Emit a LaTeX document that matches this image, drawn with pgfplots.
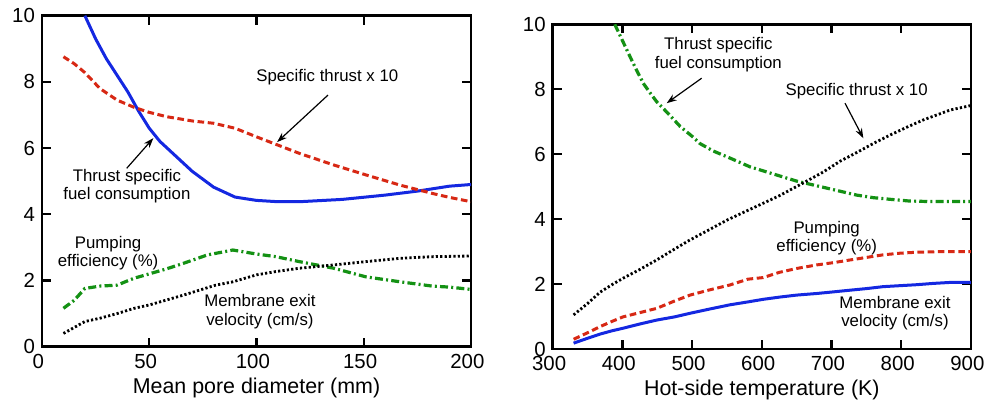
\documentclass[border=0pt]{standalone}
\usepackage{fontspec}
\setmainfont{Liberation Sans}
\usepackage{pgfplots}
\pgfplotsset{compat=1.18}
\usetikzlibrary{arrows.meta}
\definecolor{cblue}{RGB}{20,40,225}
\definecolor{cred}{RGB}{215,40,20}
\definecolor{cgreen}{RGB}{20,145,20}
\tikzset{
  sblue/.style={cblue, line width=1.5pt},
  sred/.style={cred, line width=1.5pt, dash pattern=on 3.3pt off 1.8pt},
  sgreen/.style={cgreen, line width=1.6pt, dash pattern=on 4pt off 1.6pt on 1pt off 1.6pt},
  sblack/.style={black, line width=1.4pt, dash pattern=on 1.1pt off 1.1pt},
  ann/.style={align=center, font=\fontsize{8.4}{9.2}\selectfont, inner sep=0pt},
  arr/.style={-{Stealth[length=5pt,width=3.5pt]}, line width=0.6pt, black}
}
\pgfplotsset{
  myaxis/.style={scale only axis, anchor=south west,
    axis line style={line width=1.3pt},
    tick style={line width=1.2pt, black},
    major tick length=4.5pt, tick align=inside,
    xtick pos=both, ytick pos=both,
    ymin=0, ymax=10, ytick={0,2,...,10},
    ticklabel style={font=\fontsize{10.2}{12}\selectfont},
    xticklabel style={xshift=-1.8pt},
    label style={font=\fontsize{10.7}{12}\selectfont},
    xlabel style={at={(axis description cs:0.5,0)}, anchor=base, yshift=-23.4pt},
    /pgf/number format/assume math mode=true,
    clip=true}
}
\begin{document}
\begin{tikzpicture}
\path[use as bounding box] (0,0) rectangle (492.5pt,200pt);
% ---------------- Left panel
\begin{axis}[myaxis, at={(21pt,26.65pt)}, width=214.5pt, height=165.5pt,
  xmin=0, xmax=200, xtick={0,50,...,200},
  xlabel={Mean pore diameter (mm)}]
\addplot[sblue] coordinates {(20,10)(25,9.3)(30,8.7)(35,8.2)(40,7.7)(45,7.12)(50,6.6)(55,6.2)(60,5.9)(70,5.3)(80,4.82)(90,4.52)(100,4.42)(110,4.38)(120,4.38)(140,4.45)(160,4.58)(175,4.7)(190,4.85)(200,4.9)};
\addplot[sred] coordinates {(10,8.76)(15,8.55)(20,8.28)(27,7.8)(35,7.45)(43,7.23)(50,7.08)(58,6.95)(70,6.82)(80,6.75)(90,6.6)(100,6.34)(110,6.09)(120,5.84)(136,5.49)(151,5.19)(167,4.88)(182,4.63)(190,4.51)(200,4.38)};
\addplot[sgreen] coordinates {(10,1.16)(15,1.4)(20,1.76)(27,1.83)(35,1.86)(43,2.07)(50,2.2)(58,2.35)(66,2.52)(77,2.77)(89,2.92)(100,2.8)(109,2.72)(120,2.57)(136,2.37)(151,2.11)(167,1.96)(182,1.83)(190,1.8)(200,1.73)};
\addplot[sblack] coordinates {(10,0.40)(15,0.58)(20,0.76)(27,0.86)(35,1.0)(43,1.16)(50,1.26)(66,1.56)(81,1.86)(89,1.96)(100,2.17)(109,2.27)(120,2.37)(136,2.47)(151,2.57)(167,2.67)(182,2.72)(200,2.74)};
\node[ann] at (axis cs:133,8.15) {Specific thrust x 10};
\draw[arr] (axis cs:133.3,7.6) -- (axis cs:109.6,6.18);
\node[ann] at (axis cs:39.6,4.85) {Thrust specific\\fuel consumption};
\draw[arr] (axis cs:39.5,5.39) -- (axis cs:51.9,6.3);
\node[ann] at (axis cs:30.8,2.82) {Pumping\\efficiency (\%)};
\node[ann] at (axis cs:101.6,1.06) {Membrane exit\\velocity (cm/s)};
\end{axis}
% ---------------- Right panel
\begin{axis}[myaxis, at={(276.35pt,25.5pt)}, width=209.15pt, height=162.35pt,
  xmin=300, xmax=900, xtick={300,400,...,900},
  xlabel={Hot-side temperature (K)}]
\addplot[sgreen] coordinates {(389,10)(400,9.5)(411,9.0)(420,8.6)(430,8.18)(440,7.88)(449,7.62)(463,7.31)(483,6.85)(500,6.55)(511,6.33)(530,6.1)(550,5.92)(583,5.61)(621,5.36)(650,5.17)(688,4.98)(712,4.86)(736,4.74)(760,4.66)(784,4.61)(810,4.56)(841,4.54)(900,4.54)};
\addplot[sblack] coordinates {(330,1.05)(350,1.4)(368,1.75)(385,1.98)(401,2.18)(425,2.45)(449,2.74)(475,3.08)(497,3.36)(525,3.68)(550,3.97)(575,4.22)(602,4.49)(625,4.72)(645,4.95)(660,5.12)(688,5.45)(712,5.78)(736,6.05)(760,6.33)(784,6.59)(808,6.83)(831,7.05)(850,7.2)(870,7.36)(896,7.48)(900,7.5)};
\addplot[sred] coordinates {(330,0.3)(350,0.5)(368,0.69)(385,0.85)(401,0.99)(425,1.12)(449,1.25)(475,1.48)(497,1.66)(525,1.82)(554,1.97)(580,2.15)(602,2.2)(625,2.36)(650,2.48)(679,2.59)(703,2.66)(726,2.74)(750,2.82)(774,2.9)(798,2.95)(822,2.98)(860,3.0)(900,3.0)};
\addplot[sblue] coordinates {(330,0.18)(350,0.33)(368,0.46)(385,0.56)(401,0.64)(425,0.77)(449,0.89)(475,0.99)(497,1.1)(525,1.23)(554,1.36)(580,1.45)(602,1.53)(626,1.6)(650,1.66)(679,1.71)(703,1.76)(726,1.81)(750,1.86)(774,1.92)(798,1.95)(822,1.98)(846,2.02)(870,2.05)(900,2.05)};
\node[ann] at (axis cs:537.6,9.06) {Thrust specific\\fuel consumption};
\draw[arr] (axis cs:513.7,8.34) -- (axis cs:463.5,7.57);
\node[ann] at (axis cs:736,7.95) {Specific thrust x 10};
\draw[arr] (axis cs:719.3,7.57) -- (axis cs:745.6,6.49);
\node[ann] at (axis cs:693,3.41) {Pumping\\efficiency (\%)};
\node[ann] at (axis cs:791,1.10) {Membrane exit\\velocity (cm/s)};
\end{axis}
\end{tikzpicture}
\end{document}
